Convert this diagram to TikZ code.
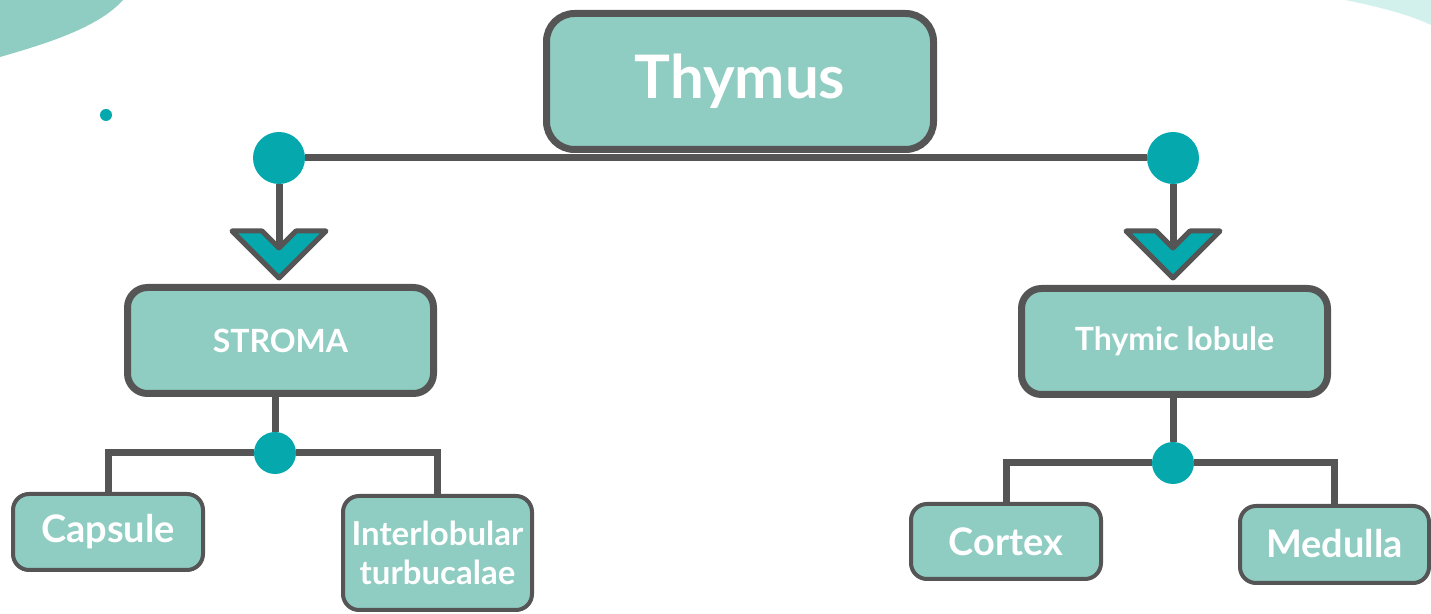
\documentclass[tikz,border=0pt]{standalone}
\usepackage{fontspec}
\setmainfont{Lato}
\usetikzlibrary{backgrounds}
\definecolor{edge}{HTML}{555555}
\definecolor{boxfill}{HTML}{8FCCC2}
\definecolor{dot}{HTML}{05A8AD}
\definecolor{blobA}{HTML}{8FCCC1}
\definecolor{blobB}{HTML}{D3F1EC}
\begin{document}
\begin{tikzpicture}[x=0.5pt,y=-0.5pt,
  box/.style={draw=edge, fill=boxfill, line width=3.5pt, text=white, align=center, inner sep=0pt},
  bigbox/.style={box, rounded corners=14pt, font=\bfseries\fontsize{30}{36}\selectfont},
  midbox/.style={box, rounded corners=10pt, minimum width=153pt, minimum height=53pt, font=\bfseries\fontsize{16}{19}\selectfont},
  smallbox/.style={box, line width=2pt, rounded corners=8pt, font=\bfseries\fontsize{19}{22}\selectfont},
  dotn/.style={circle, fill=dot, inner sep=0pt, minimum size=#1},
  link/.style={draw=edge, line width=3.5pt},
  chev/.style={draw=edge, fill=dot, line width=2.5pt, line join=round}]
\useasboundingbox (0,0) rectangle (1431,614);
% nodes
\node[bigbox, minimum width=193.5pt, minimum height=68pt] (thymus) at (740,81.5) {\raisebox{-3pt}{Thymus}};
\node[midbox] (stroma) at (280.5,340.5) {STROMA};
\node[midbox] (lobule) at (1174.5,341.5) {Thymic lobule};
\node[smallbox, minimum width=95pt, minimum height=38pt] (capsule) at (108,532) {\raisebox{2pt}{Capsule}};
\node[smallbox, minimum width=94.5pt, minimum height=57pt, font=\bfseries\fontsize{16.5}{19.5}\selectfont] (inter) at (437.5,553) {Interlobular\\turbucalae};
\node[smallbox, minimum width=95pt, minimum height=37.5pt] (cortex) at (1006,541.5) {Cortex};
\node[smallbox, minimum width=94.5pt, minimum height=38.5pt] (medulla) at (1334.5,544.5) {\raisebox{1pt}{Medulla}};
\node[dotn=26pt] (dl) at (279,158) {};
\node[dotn=26pt] (dr) at (1173,158) {};
\node[dotn=21pt] (bl) at (275,453) {};
\node[dotn=21pt] (br) at (1173,463) {};
\node[dotn=6pt] (spot) at (106,115) {};
\coordinate (tipl) at (279,248);
\coordinate (tipr) at (1173,248);
% background
\begin{scope}[on background layer]
\fill[blobA] (0,0) -- (0,57) .. controls (45,44) and (98,28) .. (123,0) -- cycle;
\fill[blobB] (1345,0) .. controls (1380,7) and (1410,15) .. (1431,25) -- (1431,0) -- cycle;
\draw[link] (dl) -- (dr);
\draw[link] (dl) -- (tipl);
\draw[link] (dr) -- (tipr);
\draw[link] (bl |- stroma.south) -- (bl);
\draw[link] (br |- lobule.south) -- (br);
\draw[link] (capsule.north) |- (bl) -| (inter.north);
\draw[link] (cortex.north) |- (br) -| (medulla.north);
\end{scope}
% chevrons
\draw[chev] (232,231) -- (262,231) -- (279,248) -- (296,231) -- (326,231) -- (279,278) -- cycle;
\draw[chev] (1126,231) -- (1156,231) -- (1173,248) -- (1190,231) -- (1220,231) -- (1173,278) -- cycle;
\end{tikzpicture}
\end{document}
